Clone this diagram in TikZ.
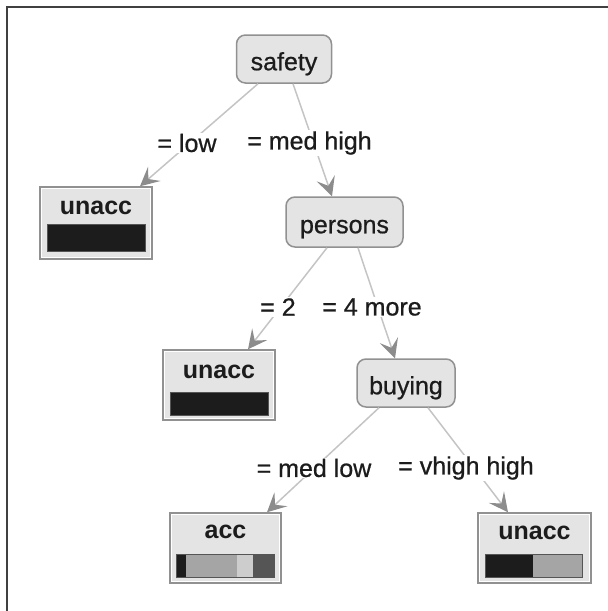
\documentclass[tikz,border=0pt]{standalone}
\usepackage{fontspec}
\setmainfont{Liberation Sans}
\newfontfamily\medfont[FakeBold=0.7]{Liberation Sans}
\usetikzlibrary{arrows.meta,calc}
\definecolor{edgegray}{RGB}{196,196,196}
\definecolor{tipgray}{RGB}{140,140,140}
\definecolor{boxfill}{RGB}{228,228,228}
\definecolor{boxline}{RGB}{145,145,145}
\definecolor{txt}{RGB}{28,28,28}
\definecolor{barblack}{RGB}{28,28,28}
\definecolor{barmid}{RGB}{165,165,165}
\definecolor{barlight}{RGB}{205,205,205}
\definecolor{bardark}{RGB}{85,85,85}
\begin{document}
\begin{tikzpicture}[x=1pt,y=-1pt,
  every node/.style={font=\medfont\fontsize{25}{30}\selectfont, text=txt},
  inner/.style={draw=boxline, fill=boxfill, line width=1.5pt, rounded corners=9pt, inner sep=0pt,
    text height=22.5pt, text depth=0pt},
  leafbox/.style={draw=boxline, fill=boxfill, line width=1.5pt, inner sep=0pt},
  leaftext/.style={font=\fontsize{25}{30}\selectfont\bfseries, inner sep=0pt},
  edge/.style={draw=edgegray, line width=1.5pt,
    -{Stealth[length=19pt,width=19pt,inset=8pt,fill=tipgray,color=tipgray]}},
  elabel/.style={fill=white, inner sep=1pt},
  barframe/.style={draw=bardark, line width=1pt}
]
\useasboundingbox (0,0) rectangle (608,611);
% frame
\draw[line width=1.6pt, draw=black!75] (7,611) -- (7,7) -- (608,7);

% inner nodes
\node[inner, minimum width=95pt, minimum height=48pt] (safety) at (284,59) {safety};
\node[inner, minimum width=117pt, minimum height=50pt] (persons) at (344.5,222) {persons};
\node[inner, minimum width=98pt, minimum height=48pt] (buying) at (406,383) {buying};

% leaves
\node[leafbox, minimum width=112pt, minimum height=72pt] (u1) at (96,223) {};
\node[leafbox, minimum width=112pt, minimum height=70pt] (u2) at (219,385) {};
\node[leafbox, minimum width=111pt, minimum height=70pt] (acc) at (225.5,548) {};
\node[leafbox, minimum width=113pt, minimum height=70pt] (u3) at (534.5,548) {};
\foreach \n in {u1,u2,acc,u3}{
  \draw[white, line width=1pt] ([shift={(2.5pt,-2.5pt)}]\n.north west) rectangle ([shift={(-2.5pt,2.5pt)}]\n.south east);
}
\node[leaftext] (u1t) at (96,208) {unacc};
\node[leaftext] (u2t) at (219,372) {unacc};
\node[leaftext] (acct) at (225.5,532) {acc};
\node[leaftext] (u3t) at (534.5,533) {unacc};

% bars
\fill[barblack] (47,224) rectangle (145,251);
\draw[barframe] (47,224) rectangle (145,251);
\fill[barblack] (170,392) rectangle (268,415);
\draw[barframe] (170,392) rectangle (268,415);
\fill[barblack] (176,554) rectangle (186,577);
\fill[barmid] (186,554) rectangle (237,577);
\fill[barlight] (237,554) rectangle (253,577);
\fill[bardark] (253,554) rectangle (274,577);
\draw[barframe] (176,554) rectangle (274,577);
\fill[barblack] (485,554) rectangle (533,577);
\fill[barmid] (533,554) rectangle (582,577);
\draw[barframe] (485,554) rectangle (582,577);

% edges
\draw[edge] ([xshift=-26pt]safety.south) -- ([xshift=44pt]u1.north);
\draw[edge] ([xshift=9pt]safety.south) -- ([xshift=-12.5pt]persons.north);
\draw[edge] ([xshift=-17.5pt]persons.south) -- ([xshift=29pt]u2.north);
\draw[edge] ([xshift=13.5pt]persons.south) -- ([xshift=-11pt]buying.north);
\draw[edge] ([xshift=-27pt]buying.south) -- ([xshift=41.5pt]acc.north);
\draw[edge] ([xshift=22pt]buying.south) -- ([xshift=-26.5pt]u3.north);

% edge labels
\node[elabel] (l1) at (187,143) {= low};
\node[elabel] (l2) at (309.5,143) {= med high};
\node[elabel] (l3) at (278,307) {= 2};
\node[elabel] (l4) at (372,307) {= 4 more};
\node[elabel] (l5) at (314,468) {= med low};
\node[elabel] (l6) at (466,468) {= vhigh high};
\end{tikzpicture}
\end{document}
